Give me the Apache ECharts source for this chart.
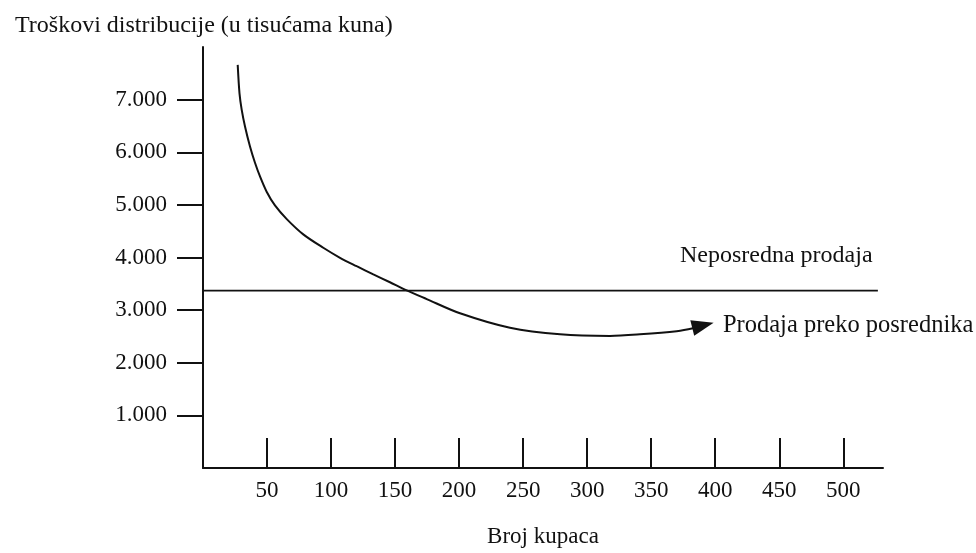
<!DOCTYPE html>
<html>
<head>
<meta charset="utf-8">
<script src="https://cdn.jsdelivr.net/npm/echarts@6/dist/echarts.min.js"></script>
<style>
html,body{margin:0;padding:0;background:#fff;}
#c{width:976px;height:553px;}
</style>
</head>
<body>
<div id="c"></div>
<script>
// ---- data ----
const titleText = 'Troškovi distribucije (u tisućama kuna)';
const xAxisName = 'Broj kupaca';
const xTicks = [50, 100, 150, 200, 250, 300, 350, 400, 450, 500];
const yTicks = [1000, 2000, 3000, 4000, 5000, 6000, 7000];
const directName = 'Neposredna prodaja';
const directX = [0, 527];
const directY = [3370, 3370];
const agentName = 'Prodaja preko posrednika';
const agentX = [27.1, 28.5, 30.2, 32.8, 36.7, 40.6, 44.5, 49.7, 56.2, 65.4, 78.3, 93.9, 107, 120, 133, 146, 157.7, 174.7, 200.7, 239.7, 278.8, 317.8, 341.2, 369.9, 382.6, 390.4];
const agentY = [7660, 7120, 6810, 6490, 6110, 5800, 5540, 5250, 4990, 4730, 4440, 4185, 3995, 3835, 3680, 3530, 3390, 3210, 2940, 2665, 2540, 2510, 2540, 2600, 2655, 2710];

const FONT = 'Liberation Serif';
const INK = '#111';

const chart = echarts.init(document.getElementById('c'), null, {renderer: 'canvas'});
const agentData = agentX.map((x, i) => [x, agentY[i]]);
const directData = directX.map((x, i) => [x, directY[i]]);
const n = agentData.length;

chart.setOption({
  animation: false,
  backgroundColor: '#fff',
  title: {
    text: titleText, left: 10, top: 9,
    textStyle: {fontFamily: FONT, fontSize: 24, fontWeight: 'normal', color: INK}
  },
  grid: {left: 203, right: 93, top: 47, bottom: 84},
  xAxis: {
    type: 'value', min: 0, max: 531,
    name: xAxisName, nameLocation: 'middle', nameGap: 57,
    nameTextStyle: {fontFamily: FONT, fontSize: 23, color: INK},
    axisLine: {show: true, onZero: false, lineStyle: {color: INK, width: 2}},
    axisTick: {show: true, inside: true, length: 30, customValues: xTicks, lineStyle: {color: INK, width: 2}},
    axisLabel: {customValues: xTicks, margin: 11, fontFamily: FONT, fontSize: 23, color: INK},
    splitLine: {show: false}
  },
  yAxis: {
    type: 'value', min: 0, max: 8000,
    axisLine: {show: true, lineStyle: {color: INK, width: 2}},
    axisTick: {show: true, inside: false, length: 26, customValues: yTicks, lineStyle: {color: INK, width: 2}},
    axisLabel: {
      customValues: yTicks, margin: 36, fontFamily: FONT, fontSize: 23, color: INK,
      formatter: v => (v / 1000).toFixed(3)
    },
    splitLine: {show: false}
  },
  series: [
    {
      name: directName, type: 'line', data: directData, symbol: 'none',
      lineStyle: {color: INK, width: 1.8}
    },
    {
      name: agentName, type: 'line', data: agentData, smooth: 0.3,
      symbol: (v, p) => p.dataIndex === n - 1 ? 'triangle' : 'none',
      symbolSize: [16, 22],
      symbolRotate: -76,
      showAllSymbol: true,
      itemStyle: {color: INK},
      lineStyle: {color: INK, width: 2},
      endLabel: {
        show: true, formatter: agentName, offset: [12, 0],
        fontFamily: FONT, fontSize: 24.5, color: INK
      }
    }
  ],
  graphic: [
    {
      type: 'text', left: 680, top: 244,
      style: {text: directName, font: '24px "Liberation Serif"', fill: INK}
    }
  ]
});
</script>
</body>
</html>
